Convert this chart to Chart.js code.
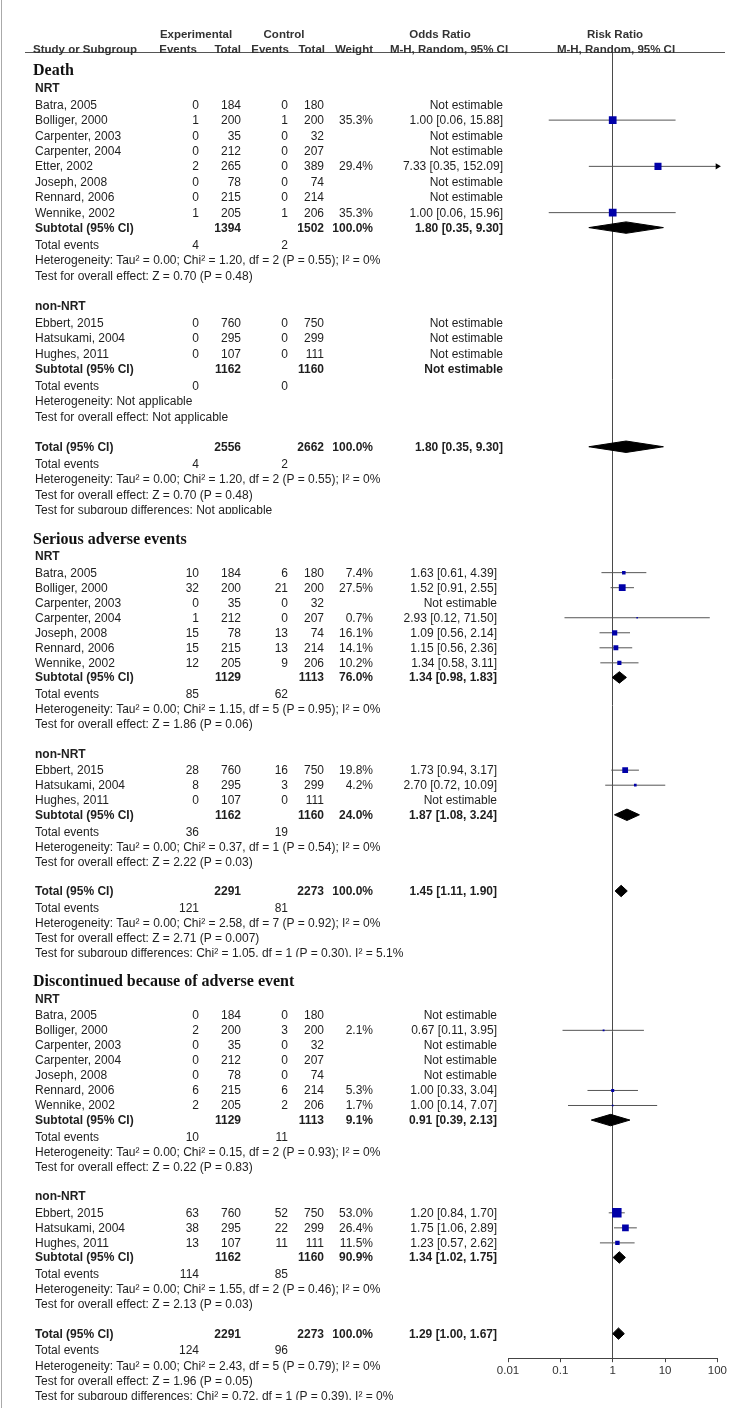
<!DOCTYPE html>
<html lang="en">
<head>
<meta charset="UTF-8">
<title>Forest plot | Adverse events</title>
<style>
  body { margin: 0; background: #fff; }
  #page { position: relative; width: 729px; height: 1421px; overflow: hidden;
          font-family: 'Liberation Sans', Arial, sans-serif; font-size: 12px; color: #1e1e1e; }
  #plot { position: absolute; left: 0; top: 0; }
  .t { position: absolute; white-space: nowrap; line-height: 14px; }
  .r { transform: translateX(-100%); }
  .c { transform: translateX(-50%); }
  .b { font-weight: bold; }
  .hd { font-weight: bold; font-size: 11.5px; color: #333; }
  .h { font-family: 'Liberation Serif', 'Times New Roman', serif; font-weight: bold;
       font-size: 16px; line-height: 18px; color: #111; }
  .clip { height: 11px; overflow: hidden; }
  .rule { position: absolute; background: #555; }
</style>
</head>
<body>
<div id="page">
  <canvas id="plot" width="729" height="1421"></canvas>
  <div class="rule" style="left:1px; top:0; width:1px; height:1408px; background:#aaa"></div>
  <div class="rule" style="left:25px; top:52px; width:700px; height:1px"></div>
</div>
<script src="https://cdn.jsdelivr.net/npm/chart.js"></script>
<script>
const outcomeNames = ['Death', 'Serious adverse events', 'Discontinued because of adverse event'];
const subgroupNames = ['NRT', 'non-NRT'];
const xTicks = [0.01, 0.1, 1, 10, 100];

// study, exp events, exp total, ctl events, ctl total, weight %, OR, lower, upper (null = not estimable)
const deathNRT = [
  ['Batra, 2005', 0, 184, 0, 180, null, null, null, null],
  ['Bolliger, 2000', 1, 200, 1, 200, 35.3, 1.00, 0.06, 15.88],
  ['Carpenter, 2003', 0, 35, 0, 32, null, null, null, null],
  ['Carpenter, 2004', 0, 212, 0, 207, null, null, null, null],
  ['Etter, 2002', 2, 265, 0, 389, 29.4, 7.33, 0.35, 152.09],
  ['Joseph, 2008', 0, 78, 0, 74, null, null, null, null],
  ['Rennard, 2006', 0, 215, 0, 214, null, null, null, null],
  ['Wennike, 2002', 1, 205, 1, 206, 35.3, 1.00, 0.06, 15.96]
];
const deathNonNRT = [
  ['Ebbert, 2015', 0, 760, 0, 750, null, null, null, null],
  ['Hatsukami, 2004', 0, 295, 0, 299, null, null, null, null],
  ['Hughes, 2011', 0, 107, 0, 111, null, null, null, null]
];
const seriousNRT = [
  ['Batra, 2005', 10, 184, 6, 180, 7.4, 1.63, 0.61, 4.39],
  ['Bolliger, 2000', 32, 200, 21, 200, 27.5, 1.52, 0.91, 2.55],
  ['Carpenter, 2003', 0, 35, 0, 32, null, null, null, null],
  ['Carpenter, 2004', 1, 212, 0, 207, 0.7, 2.93, 0.12, 71.50],
  ['Joseph, 2008', 15, 78, 13, 74, 16.1, 1.09, 0.56, 2.14],
  ['Rennard, 2006', 15, 215, 13, 214, 14.1, 1.15, 0.56, 2.36],
  ['Wennike, 2002', 12, 205, 9, 206, 10.2, 1.34, 0.58, 3.11]
];
const seriousNonNRT = [
  ['Ebbert, 2015', 28, 760, 16, 750, 19.8, 1.73, 0.94, 3.17],
  ['Hatsukami, 2004', 8, 295, 3, 299, 4.2, 2.70, 0.72, 10.09],
  ['Hughes, 2011', 0, 107, 0, 111, null, null, null, null]
];
const discNRT = [
  ['Batra, 2005', 0, 184, 0, 180, null, null, null, null],
  ['Bolliger, 2000', 2, 200, 3, 200, 2.1, 0.67, 0.11, 3.95],
  ['Carpenter, 2003', 0, 35, 0, 32, null, null, null, null],
  ['Carpenter, 2004', 0, 212, 0, 207, null, null, null, null],
  ['Joseph, 2008', 0, 78, 0, 74, null, null, null, null],
  ['Rennard, 2006', 6, 215, 6, 214, 5.3, 1.00, 0.33, 3.04],
  ['Wennike, 2002', 2, 205, 2, 206, 1.7, 1.00, 0.14, 7.07]
];
const discNonNRT = [
  ['Ebbert, 2015', 63, 760, 52, 750, 53.0, 1.20, 0.84, 1.70],
  ['Hatsukami, 2004', 38, 295, 22, 299, 26.4, 1.75, 1.06, 2.89],
  ['Hughes, 2011', 13, 107, 11, 111, 11.5, 1.23, 0.57, 2.62]
];

// pooled rows (NRT subtotal, non-NRT subtotal, total):
// exp events, exp total, ctl events, ctl total, weight %, OR, lower, upper
const deathPooled = [
  [4, 1394, 2, 1502, 100.0, 1.80, 0.35, 9.30],
  [0, 1162, 0, 1160, null, null, null, null],
  [4, 2556, 2, 2662, 100.0, 1.80, 0.35, 9.30]
];
const seriousPooled = [
  [85, 1129, 62, 1113, 76.0, 1.34, 0.98, 1.83],
  [36, 1162, 19, 1160, 24.0, 1.87, 1.08, 3.24],
  [121, 2291, 81, 2273, 100.0, 1.45, 1.11, 1.90]
];
const discPooled = [
  [10, 1129, 11, 1113, 9.1, 0.91, 0.39, 2.13],
  [114, 1162, 85, 1160, 90.9, 1.34, 1.02, 1.75],
  [124, 2291, 96, 2273, 100.0, 1.29, 1.00, 1.67]
];

const deathNotes = [
  'Heterogeneity: Tau² = 0.00; Chi² = 1.20, df = 2 (P = 0.55); I² = 0%',
  'Test for overall effect: Z = 0.70 (P = 0.48)',
  'Heterogeneity: Not applicable',
  'Test for overall effect: Not applicable',
  'Heterogeneity: Tau² = 0.00; Chi² = 1.20, df = 2 (P = 0.55); I² = 0%',
  'Test for overall effect: Z = 0.70 (P = 0.48)',
  'Test for subgroup differences: Not applicable'
];
const seriousNotes = [
  'Heterogeneity: Tau² = 0.00; Chi² = 1.15, df = 5 (P = 0.95); I² = 0%',
  'Test for overall effect: Z = 1.86 (P = 0.06)',
  'Heterogeneity: Tau² = 0.00; Chi² = 0.37, df = 1 (P = 0.54); I² = 0%',
  'Test for overall effect: Z = 2.22 (P = 0.03)',
  'Heterogeneity: Tau² = 0.00; Chi² = 2.58, df = 7 (P = 0.92); I² = 0%',
  'Test for overall effect: Z = 2.71 (P = 0.007)',
  'Test for subgroup differences: Chi² = 1.05, df = 1 (P = 0.30), I² = 5.1%'
];
const discNotes = [
  'Heterogeneity: Tau² = 0.00; Chi² = 0.15, df = 2 (P = 0.93); I² = 0%',
  'Test for overall effect: Z = 0.22 (P = 0.83)',
  'Heterogeneity: Tau² = 0.00; Chi² = 1.55, df = 2 (P = 0.46); I² = 0%',
  'Test for overall effect: Z = 2.13 (P = 0.03)',
  'Heterogeneity: Tau² = 0.00; Chi² = 2.43, df = 5 (P = 0.79); I² = 0%',
  'Test for overall effect: Z = 1.96 (P = 0.05)',
  'Test for subgroup differences: Chi² = 0.72, df = 1 (P = 0.39), I² = 0%'
];

const sections = [
  [deathNRT, deathNonNRT, deathPooled, deathNotes],
  [seriousNRT, seriousNonNRT, seriousPooled, seriousNotes],
  [discNRT, discNonNRT, discPooled, discNotes]
];

// layout
const ROW_PX = 15.04, FIRST_ROW_Y = 70, AREA_TOP = 53, AXIS_Y = 1359;
const STRETCH = [1.026, 1, 1];
const OR_RIGHT = [503, 497, 497];
const COL = { name: 35, expEv: 199, expTot: 241, ctlEv: 288, ctlTot: 324, weight: 373 };
const DIAMOND_H = 0.38;
const X_MAX = xTicks[xTicks.length - 1];

// rows of the table, position counted in rows
const rows = [];
let pos = 0;
sections.forEach((sec, o) => {
  const s = STRETCH[o];
  const add = (step, row) => { pos += step * s; row.idx = pos; row.o = o; rows.push(row); };
  const [nrt, non, pooled, notes] = sec;
  add(o ? 1.9 : 0, { type: 'heading', text: outcomeNames[o] });
  [nrt, non].forEach((list, g) => {
    add(g ? 1.95 : 1.15, { type: 'group', text: subgroupNames[g] });
    list.forEach((d, i) => add(i ? 1 : 1.1, { type: 'study', d }));
    add(0.97, { type: 'pooled', label: 'Subtotal (95% CI)', d: pooled[g] });
    add(1.12, { type: 'events', d: pooled[g] });
    add(1, { type: 'note', text: notes[g * 2] });
    add(1, { type: 'note', text: notes[g * 2 + 1] });
  });
  add(1.95, { type: 'pooled', label: 'Total (95% CI)', d: pooled[2] });
  add(1.12, { type: 'events', d: pooled[2] });
  add(1, { type: 'note', text: notes[4] });
  add(1, { type: 'note', text: notes[5] });
  add(1, { type: 'note', text: notes[6], clip: true });
});

// datasets: CI lines, arrows, diamonds, squares
const datasets = [];
const squares = [], squareR = [];
rows.forEach(r => {
  if (r.type === 'study' && r.d[6] != null) {
    const w = r.d[5], est = r.d[6], lo = r.d[7], hi = r.d[8];
    datasets.push({ data: [{ x: lo, y: r.idx }, { x: Math.min(hi, X_MAX), y: r.idx }],
      borderColor: '#555', borderWidth: 1, pointRadius: 0, order: 3 });
    if (hi > X_MAX) {
      datasets.push({ data: [{ x: X_MAX, y: r.idx }], showLine: false, pointStyle: 'triangle',
        pointRotation: 90, pointRadius: 3.5, pointBackgroundColor: '#000', pointBorderWidth: 0,
        clip: false, order: 2 });
    }
    squares.push({ x: est, y: r.idx });
    squareR.push(Math.max(1.5, 1.3 * Math.sqrt(w)) / Math.SQRT2);
  }
  if (r.type === 'pooled' && r.d[5] != null) {
    const est = r.d[5], lo = r.d[6], hi = r.d[7];
    const upper = datasets.length;
    datasets.push({ data: [{ x: lo, y: r.idx }, { x: est, y: r.idx - DIAMOND_H }, { x: hi, y: r.idx }],
      borderColor: '#000', borderWidth: 1, pointRadius: 0, order: 1 });
    datasets.push({ data: [{ x: lo, y: r.idx }, { x: est, y: r.idx + DIAMOND_H }, { x: hi, y: r.idx }],
      borderColor: '#000', borderWidth: 1, pointRadius: 0, backgroundColor: '#000', fill: upper, order: 1 });
  }
});
datasets.push({ data: squares, showLine: false, pointStyle: 'rect', pointRadius: squareR,
  pointBackgroundColor: '#0000a8', pointBorderWidth: 0, order: 0 });

const chart = new Chart(document.getElementById('plot'), {
  type: 'line',
  data: { datasets },
  options: {
    responsive: false,
    animation: false,
    events: [],
    layout: { padding: { left: 508, right: 10, top: AREA_TOP, bottom: 41 } },
    elements: { line: { tension: 0 }, point: { radius: 0, hoverRadius: 0 } },
    plugins: { legend: { display: false }, tooltip: { enabled: false } },
    scales: {
      x: {
        type: 'logarithmic', min: xTicks[0], max: X_MAX,
        afterBuildTicks: scale => { scale.ticks = xTicks.map(v => ({ value: v })); },
        ticks: { callback: v => String(v), autoSkip: false, maxRotation: 0, padding: 2,
                 color: '#333', font: { family: 'Liberation Sans', size: 11.5 } },
        grid: { color: c => (c.tick && c.tick.value === 1) ? '#4a4a4a' : 'rgba(0,0,0,0)',
                tickColor: '#444', tickLength: 4 },
        border: { color: '#444' }
      },
      y: {
        type: 'linear', reverse: true, display: false,
        min: (AREA_TOP - FIRST_ROW_Y) / ROW_PX,
        max: (AXIS_Y - FIRST_ROW_Y) / ROW_PX
      }
    }
  }
});

// table text, placed with the chart's own row scale
const page = document.getElementById('page');
function put(text, x, y, cls, half) {
  const d = document.createElement('div');
  d.className = 't ' + (cls || '');
  d.textContent = text;
  d.style.left = x + 'px';
  d.style.top = (y - (half || 7)) + 'px';
  page.appendChild(d);
  return d;
}
const f2 = v => v.toFixed(2);
const orText = (est, lo, hi) => `${f2(est)} [${f2(lo)}, ${f2(hi)}]`;

put('Experimental', 196, 34, 'hd c');
put('Control', 284, 34, 'hd c');
put('Odds Ratio', 440, 34, 'hd c');
put('Risk Ratio', 615, 34, 'hd c');
put('Study or Subgroup', 33, 49, 'hd');
put('Events', 197, 49, 'hd r');
put('Total', 241, 49, 'hd r');
put('Events', 289, 49, 'hd r');
put('Total', 325, 49, 'hd r');
put('Weight', 373, 49, 'hd r');
put('M-H, Random, 95% CI', 449, 49, 'hd c');
put('M-H, Random, 95% CI', 616, 49, 'hd c');

const yScale = chart.scales.y;
rows.forEach(r => {
  const y = yScale.getPixelForValue(r.idx);
  const orX = OR_RIGHT[r.o];
  if (r.type === 'heading') {
    put(r.text, 33, y, 'h', 9);
  } else if (r.type === 'group') {
    put(r.text, COL.name, y, 'b');
  } else if (r.type === 'study') {
    const d = r.d;
    put(d[0], COL.name, y);
    put(String(d[1]), COL.expEv, y, 'r');
    put(String(d[2]), COL.expTot, y, 'r');
    put(String(d[3]), COL.ctlEv, y, 'r');
    put(String(d[4]), COL.ctlTot, y, 'r');
    if (d[5] != null) put(d[5].toFixed(1) + '%', COL.weight, y, 'r');
    put(d[6] != null ? orText(d[6], d[7], d[8]) : 'Not estimable', orX, y, 'r');
  } else if (r.type === 'pooled') {
    const d = r.d;
    put(r.label, COL.name, y, 'b');
    put(String(d[1]), COL.expTot, y, 'b r');
    put(String(d[3]), COL.ctlTot, y, 'b r');
    if (d[4] != null) put(d[4].toFixed(1) + '%', COL.weight, y, 'b r');
    put(d[5] != null ? orText(d[5], d[6], d[7]) : 'Not estimable', orX, y, 'b r');
  } else if (r.type === 'events') {
    put('Total events', COL.name, y);
    put(String(r.d[0]), COL.expEv, y, 'r');
    put(String(r.d[2]), COL.ctlEv, y, 'r');
  } else {
    put(r.text, COL.name, y, r.clip ? 'clip' : '');
  }
});
</script>
</body>
</html>
